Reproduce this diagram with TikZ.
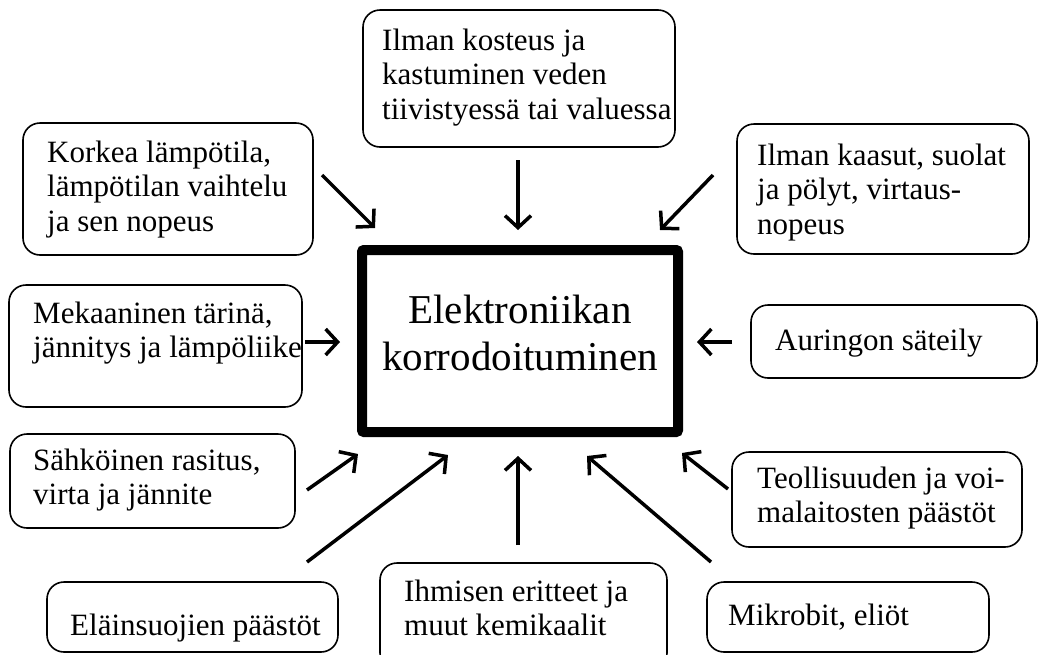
\documentclass[tikz,border=0pt]{standalone}
\usepackage{fontspec}
\setmainfont{Liberation Serif}
\usetikzlibrary{arrows.meta}

\tikzset{
  factor/.style={draw, line width=1.6pt, rounded corners=17pt, inner sep=0pt},
  lbl/.style={anchor=north west, inner sep=0pt, align=left,
              font=\fontsize{31}{34.5}\selectfont},
  core/.style={draw, line width=10pt, rounded corners=2pt, inner sep=0pt},
  coretext/.style={inner sep=0pt, align=center, font=\fontsize{41}{47}\selectfont},
  influence/.style={line width=3.5pt,
    -{Straight Barb[length=12pt,width=26pt,line width=3.5pt]}}
}
% first line of every label gets a fixed-height strut, so the node's
% north edge lies 25pt above its first baseline
\newcommand{\firstline}{\rule{0pt}{25pt}}

\begin{document}
\begin{tikzpicture}[x=1pt,y=-1pt]
\useasboundingbox (0,0) rectangle (1040,654);

% central block
\node[core, minimum width=316pt, minimum height=182pt] (core) at (520,341) {};
\node[coretext] (coretxt) at (520,333) {Elektroniikan\\korrodoituminen};

% factor boxes
\node[factor, minimum width=312pt, minimum height=137pt] (kosteus)    at (519,78.5)  {};
\node[factor, minimum width=290pt, minimum height=132pt] (korkea)     at (168,189)   {};
\node[factor, minimum width=292pt, minimum height=130pt] (kaasut)     at (883,189)   {};
\node[factor, minimum width=293pt, minimum height=122pt] (mekaaninen) at (155.5,346) {};
\node[factor, minimum width=286pt, minimum height=73pt]  (auringon)   at (894,341.5) {};
\node[factor, minimum width=285pt, minimum height=94pt]  (sahkoinen)  at (152.5,481) {};
\node[factor, minimum width=290pt, minimum height=95pt]  (teollisuus) at (877,499.5) {};
\node[factor, minimum width=291pt, minimum height=70pt]  (elain)      at (192.5,617) {};
\node[factor, minimum width=287pt, minimum height=107pt] (ihmisen)    at (523.5,616.5) {};
\node[factor, minimum width=282pt, minimum height=70pt]  (mikrobit)   at (848,617)   {};

% labels (placed 25pt above the first baseline)
\node[lbl] (t-kosteus)    at (382,25)  {\firstline Ilman kosteus ja\\kastuminen veden\\tiivistyessä tai valuessa};
\node[lbl] (t-korkea)     at (47,137)  {\firstline Korkea lämpötila,\\lämpötilan vaihtelu\\ja sen nopeus};
\node[lbl] (t-kaasut)     at (757,140) {\firstline Ilman kaasut, suolat\\ja pölyt, virtaus-\\nopeus};
\node[lbl] (t-mekaaninen) at (33,298)  {\firstline Mekaaninen tärinä,\\jännitys ja lämpöliike};
\node[lbl] (t-auringon)   at (775,325) {\firstline Auringon säteily};
\node[lbl] (t-sahkoinen)  at (33,445)  {\firstline Sähköinen rasitus,\\virta ja jännite};
\node[lbl] (t-teollisuus) at (757,463) {\firstline Teollisuuden ja voi-\\malaitosten päästöt};
\node[lbl] (t-elain)      at (70,610)  {\firstline Eläinsuojien päästöt};
\node[lbl] (t-ihmisen)    at (404,576) {\firstline Ihmisen eritteet ja\\muut kemikaalit};
\node[lbl] (t-mikrobit)   at (728,600) {\firstline Mikrobit, eliöt};

% arrow end points
\coordinate (korkea-s)     at (322,175); \coordinate (korkea-e)     at (375,228);
\coordinate (kosteus-s)    at (518,160); \coordinate (kosteus-e)    at (518,230);
\coordinate (kaasut-s)     at (713,175); \coordinate (kaasut-e)     at (660,230);
\coordinate (mekaaninen-s) at (305,342); \coordinate (mekaaninen-e) at (340,342);
\coordinate (auringon-s)   at (732,342); \coordinate (auringon-e)   at (697,342);
\coordinate (sahkoinen-s)  at (307,490); \coordinate (sahkoinen-e)  at (358,454);
\coordinate (elain-s)      at (307,562); \coordinate (elain-e)      at (448,455);
\coordinate (ihmisen-s)    at (518,545); \coordinate (ihmisen-e)    at (518,456);
\coordinate (mikrobit-s)   at (711,562); \coordinate (mikrobit-e)   at (587,456);
\coordinate (teollisuus-s) at (728,489); \coordinate (teollisuus-e) at (682,453);

% arrows toward the central block
\foreach \f in {korkea,kosteus,kaasut,mekaaninen,auringon,sahkoinen,elain,ihmisen,mikrobit,teollisuus}
  \draw[influence] (\f-s) -- (\f-e);

\end{tikzpicture}
\end{document}
